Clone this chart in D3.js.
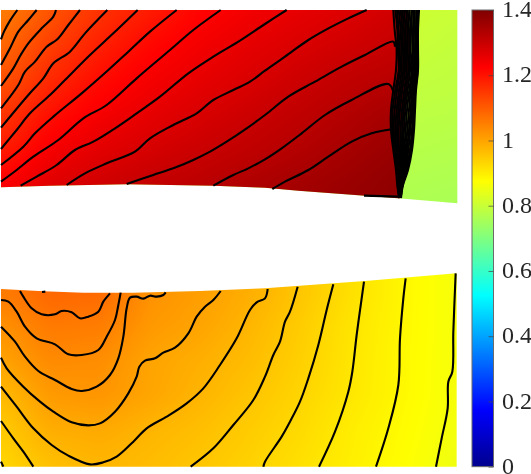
<!DOCTYPE html>
<html>
<head>
<meta charset="utf-8">
<script src="https://cdn.jsdelivr.net/npm/d3@7"></script>
<style>
  html, body { margin: 0; padding: 0; background: #fff; overflow: hidden; }
  #chart_container { position: relative; width: 531px; height: 474px; }
  canvas, svg { position: absolute; left: 0; top: 0; }
</style>
</head>
<body>
<div id="chart_container"></div>
<script>

// Global Variables

const pageWidth = 531;
const pageHeight = 474;
const plotRight = 458;
const plotTop = 10;
const plotBottom = 466.67;
const barLeft = 472;
const barRight = 493.5;
const fontSize = "24px";
const contourWidth = 2.1;

// Colormap (jet) and colorbar ticks

const jetStops = [0, 0.175, 0.525, 0.875, 1.225, 1.4];
const jetColors = ["#00008f", "#0000ff", "#00ffff", "#ffff00", "#ff0000", "#800000"];
const barTicks = [0, 0.2, 0.4, 0.6, 0.8, 1, 1.2, 1.4];

// Field values, mesh units (x right, y up)

const upperX = [0, 150, 300, 450, 600, 750, 900, 1050, 1200];
const upperY = [1368, 1263, 1158, 1053, 948, 843];
const upperField = [
  [1.05, 1.109, 1.156, 1.188, 1.22, 1.241, 1.258, 1.272, 1.29],
  [1.08, 1.141, 1.183, 1.216, 1.241, 1.26, 1.276, 1.29, 1.304],
  [1.11, 1.17, 1.21, 1.238, 1.258, 1.276, 1.294, 1.312, 1.325],
  [1.15, 1.205, 1.238, 1.259, 1.278, 1.295, 1.313, 1.332, 1.352],
  [1.185, 1.237, 1.264, 1.282, 1.297, 1.313, 1.33, 1.349, 1.368],
  [1.228, 1.268, 1.29, 1.306, 1.32, 1.337, 1.352, 1.365, 1.38]
];

const wakeX = [1200, 1372];
const wakeY = [1368, 1100, 800];
const wakeField = [
  [0.81, 0.8],
  [0.79, 0.785],
  [0.765, 0.76]
];

const lowerX = [0, 150, 300, 450, 600, 750, 900, 1050, 1200, 1350];
const lowerY = [513, 423, 318, 213, 108, 0];
const lowerField = [
  [1.055, 1.085, 1.08, 1.024, 1.007, 0.985, 0.953, 0.918, 0.888, 0.864],
  [1.024, 1.06, 1.055, 1.015, 1.0, 0.975, 0.945, 0.912, 0.887, 0.864],
  [1.0, 1.035, 1.03, 1.0, 0.985, 0.966, 0.94, 0.91, 0.885, 0.864],
  [0.968, 1.013, 1.02, 0.998, 0.977, 0.955, 0.933, 0.908, 0.885, 0.863],
  [0.945, 0.987, 0.992, 0.976, 0.963, 0.945, 0.925, 0.9, 0.881, 0.86],
  [0.93, 0.96, 0.975, 0.966, 0.953, 0.937, 0.917, 0.897, 0.877, 0.855]
];

// Domain outlines

const upperOutline = [[3, 1368], [1372, 1368], [1372, 788], [1195, 803], [1095, 811], [995, 818],
  [895, 826], [795, 835], [640, 841], [380, 845], [150, 841], [3, 836]];
const lowerOutline = [[3, 531], [130, 524], [250, 520], [400, 520], [600, 525], [795, 533],
  [1095, 555], [1370, 578], [1370, -2], [3, -2]];

// Contour lines, upper block

const upperContours = [
  [[52, 1368], [30, 1336], [12, 1303], [3, 1280]],
  [[110, 1368], [85, 1338], [55, 1303], [30, 1253], [3, 1203]],
  [[168, 1368], [160, 1348], [125, 1313], [85, 1268], [62, 1233], [40, 1193], [3, 1140]],
  [[240, 1368], [205, 1323], [172, 1280], [140, 1258], [105, 1213], [75, 1183], [55, 1143], [3, 1073]],
  [[322, 1368], [255, 1298], [210, 1243], [160, 1208], [130, 1163], [85, 1113], [3, 1015]],
  [[413, 1368], [340, 1298], [270, 1233], [195, 1158], [150, 1113], [90, 1058], [50, 1008], [3, 951]],
  [[530, 1368], [450, 1303], [385, 1243], [325, 1188], [245, 1118], [160, 1048], [105, 998], [70, 958], [3, 903]],
  [[662, 1368], [580, 1308], [510, 1248], [410, 1163], [320, 1083], [250, 1043], [175, 978], [100, 928], [50, 888], [3, 853]],
  [[860, 1368], [795, 1326], [720, 1276], [640, 1228], [565, 1178], [480, 1108], [410, 1058], [345, 1013], [280, 973], [225, 948], [170, 903], [110, 868], [62, 841]],
  [[1100, 1368], [1045, 1343], [995, 1318], [925, 1278], [855, 1228], [795, 1186], [750, 1153], [700, 1128], [640, 1098], [590, 1058], [520, 1023], [450, 983], [405, 943], [320, 908], [255, 878], [200, 843]],
  [[1185, 1258], [1180, 1273], [1095, 1233], [1025, 1198], [945, 1153], [865, 1108], [795, 1053], [740, 1013], [680, 973], [630, 943], [580, 918], [520, 893], [460, 873], [380, 846]],
  [[1180, 1123], [1165, 1146], [1055, 1098], [975, 1053], [905, 998], [845, 953], [795, 920], [745, 893], [700, 873], [640, 841]],
  [[1175, 1010], [1115, 998], [1055, 973], [985, 928], [925, 888], [855, 853], [817, 831]],
  [[1092, 811], [1195, 808]]
];

// Contour lines bunched up in the shock: x at each shared row

const shockY = [1368, 1308, 1248, 1188, 1128, 1068, 1008, 948, 888, 843, 804];
const shockX = [
  [1180, 1184, 1190, 1188, 1180, 1173, 1173, 1180, 1188, 1192, 1197],
  [1186, 1192, 1194, 1196, 1186, 1178, 1177, 1183, 1190, 1193, 1198],
  [1191, 1196, 1199, 1200, 1191, 1184, 1181, 1186, 1192, 1195, 1198],
  [1196, 1202, 1204, 1205, 1197, 1190, 1186, 1190, 1194, 1196, 1198],
  [1202, 1207, 1209, 1210, 1202, 1195, 1191, 1193, 1196, 1197, 1199],
  [1207, 1212, 1214, 1215, 1207, 1200, 1196, 1197, 1198, 1198, 1199],
  [1212, 1217, 1218, 1220, 1213, 1206, 1202, 1202, 1201, 1199, 1199],
  [1218, 1222, 1223, 1225, 1218, 1211, 1207, 1205, 1203, 1200, 1200],
  [1223, 1227, 1228, 1230, 1223, 1216, 1212, 1209, 1205, 1201, 1200],
  [1228, 1232, 1232, 1235, 1228, 1221, 1217, 1213, 1208, 1203, 1200],
  [1234, 1236, 1238, 1239, 1232, 1227, 1222, 1217, 1211, 1204, 1201],
  [1239, 1241, 1242, 1243, 1236, 1232, 1227, 1221, 1214, 1205, 1201],
  [1244, 1245, 1247, 1247, 1240, 1236, 1231, 1225, 1216, 1206, 1201],
  [1249, 1249, 1250, 1250, 1244, 1240, 1236, 1230, 1219, 1207, 1202],
  [1253, 1252, 1252, 1253, 1246, 1243, 1239, 1233, 1221, 1208, 1202],
  [1257, 1254, 1254, 1254, 1248, 1245, 1242, 1236, 1224, 1209, 1203]
];

// Contour lines, lower block

const lowerContours = [
  [[60, 525], [70, 508], [95, 473], [125, 455], [165, 455], [185, 465], [215, 461], [240, 443], [265, 448], [295, 463], [310, 493], [330, 518]],
  [[126, 522], [136, 523]],
  [[3, 498], [25, 493], [50, 463], [75, 418], [110, 383], [165, 365], [205, 335], [245, 333], [295, 348], [320, 388], [345, 438], [355, 483], [362, 520]],
  [[3, 418], [45, 373], [75, 328], [115, 285], [165, 258], [215, 231], [245, 225], [290, 238], [330, 273], [355, 323], [370, 388], [380, 473], [390, 505], [410, 508], [430, 502], [450, 511], [470, 508], [490, 513], [497, 521]],
  [[3, 325], [20, 293], [70, 238], [120, 193], [160, 163], [215, 131], [265, 122], [300, 128], [345, 163], [385, 218], [410, 268], [418, 298], [435, 316], [465, 323], [490, 340], [525, 355], [565, 398], [590, 448], [615, 478], [640, 498], [662, 525]],
  [[3, 238], [50, 178], [100, 113], [155, 63], [205, 31], [270, 5], [310, 11], [350, 28], [400, 73], [440, 113], [500, 148], [560, 188], [610, 233], [660, 303], [710, 383], [750, 468], [770, 491], [795, 503], [803, 531]],
  [[3, 135], [40, 83], [70, 43], [100, -2]],
  [[3, 13], [10, -2]],
  [[572, -2], [640, 53], [700, 123], [760, 198], [795, 268], [820, 333], [840, 373], [855, 433], [870, 463], [893, 538]],
  [[790, -2], [795, 13], [845, 88], [870, 133], [900, 193], [925, 263], [955, 363], [980, 468], [1000, 545]],
  [[957, -2], [1005, 103], [1045, 223], [1057, 283], [1070, 393], [1085, 503], [1092, 553]],
  [[1128, -2], [1165, 113], [1195, 243], [1200, 383], [1210, 503], [1217, 563]],
  [[1308, -2], [1325, 83], [1343, 173], [1345, 253], [1357, 283], [1360, 403], [1367, 578]]
];

// Scales

const x = d3.scaleLinear().domain([0, 1374]).range([0, plotRight]);
const y = d3.scaleLinear().domain([-2, 1368]).range([plotBottom, plotTop]);
const color = d3.scaleLinear().domain(jetStops).range(jetColors).clamp(true);
const barY = d3.scaleLinear().domain([0, 1.4]).range([plotBottom, plotTop]);

const container = d3.select("#chart_container");

// Field raster on a canvas below the svg

const canvas = container.append("canvas")
  .attr("width", pageWidth)
  .attr("height", pageHeight)
  .node();
const ctx = canvas.getContext("2d");
const outlinePath = d3.line().x(d => x(d[0])).y(d => y(d[1])).context(ctx);

const colorTable = d3.range(1025).map(i => d3.rgb(color(i / 1024 * 1.4)));

function rasterize(xs, ys, field) {
  const off = document.createElement("canvas");
  off.width = pageWidth;
  off.height = pageHeight;
  const offCtx = off.getContext("2d");
  const img = offCtx.createImageData(pageWidth, pageHeight);
  const col = d3.scaleLinear().domain(xs).range(d3.range(xs.length)).clamp(true);
  const row = d3.scaleLinear().domain(ys).range(d3.range(ys.length)).clamp(true);
  for (let py = 0; py < pageHeight; py++) {
    const fy = row(y.invert(py + 0.5));
    const j = Math.min(Math.floor(fy), ys.length - 2);
    const ty = fy - j;
    for (let px = 0; px < pageWidth; px++) {
      const fx = col(x.invert(px + 0.5));
      const i = Math.min(Math.floor(fx), xs.length - 2);
      const tx = fx - i;
      const v = (field[j][i] * (1 - tx) + field[j][i + 1] * tx) * (1 - ty)
        + (field[j + 1][i] * (1 - tx) + field[j + 1][i + 1] * tx) * ty;
      const c = colorTable[Math.round(v / 1.4 * 1024)];
      const k = (py * pageWidth + px) * 4;
      img.data[k] = c.r;
      img.data[k + 1] = c.g;
      img.data[k + 2] = c.b;
      img.data[k + 3] = 255;
    }
  }
  offCtx.putImageData(img, 0, 0);

  // soften the creases along the grid lines, sharp copy below so the page edge stays opaque
  const soft = document.createElement("canvas");
  soft.width = pageWidth;
  soft.height = pageHeight;
  const softCtx = soft.getContext("2d");
  softCtx.drawImage(off, 0, 0);
  softCtx.filter = "blur(6px)";
  softCtx.drawImage(off, 0, 0);
  return soft;
}

function drawClipped(raster, outlines) {
  ctx.save();
  outlines.forEach(o => {
    ctx.beginPath();
    outlinePath(o);
    ctx.closePath();
    ctx.clip();
  });
  ctx.drawImage(raster, 0, 0);
  ctx.restore();
}

// the flow ahead of the shock stops at the middle of the bunched lines
const aheadOutline = [[0, 1368]]
  .concat(shockY.map((d, i) => [shockX[8][i], d]))
  .concat([[1200, 780], [0, 780]]);

drawClipped(rasterize(wakeX, wakeY, wakeField), [upperOutline]);
drawClipped(rasterize(upperX, upperY, upperField), [upperOutline, aheadOutline]);
drawClipped(rasterize(lowerX, lowerY, lowerField), [lowerOutline]);

// Set chart

const svg = container.append("svg")
  .attr("width", pageWidth)
  .attr("height", pageHeight);

const contourLine = d3.line()
  .x(d => x(d[0]))
  .y(d => y(d[1]))
  .curve(d3.curveCatmullRom.alpha(0.5));

const shockLines = shockX.map(xs => xs.map((d, i) => [d, shockY[i]]));

svg.append("g")
  .attr("fill", "none")
  .attr("stroke", "#000")
  .attr("stroke-width", contourWidth)
  .selectAll("path")
  .data(upperContours.concat(shockLines, lowerContours))
  .join("path")
  .attr("d", contourLine);

// Colorbar

const gradient = svg.append("defs").append("linearGradient")
  .attr("id", "jet")
  .attr("x1", 0).attr("x2", 0)
  .attr("y1", 1).attr("y2", 0);

gradient.selectAll("stop")
  .data(jetStops)
  .join("stop")
  .attr("offset", d => d / 1.4)
  .attr("stop-color", d => color(d));

svg.append("rect")
  .attr("x", barLeft)
  .attr("y", plotTop)
  .attr("width", barRight - barLeft)
  .attr("height", plotBottom - plotTop)
  .attr("fill", "url(#jet)")
  .attr("stroke", "#6b6b6b")
  .attr("stroke-width", 1);

svg.append("g")
  .attr("transform", `translate(${barRight}, 0)`)
  .style("font-size", fontSize)
  .style("font-family", "'Liberation Serif', serif")
  .call(d3.axisRight(barY)
    .tickValues(barTicks)
    .tickSize(-5)
    .tickPadding(8.5)
    .tickFormat(d => String(d)))
  .call(g => g.select(".domain").remove())
  .call(g => g.selectAll(".tick line").attr("stroke", "#444").attr("stroke-width", 0.7))
  .call(g => g.selectAll(".tick text").attr("fill", "#262626").attr("dy", "0.28em"));

</script>
</body>
</html>
